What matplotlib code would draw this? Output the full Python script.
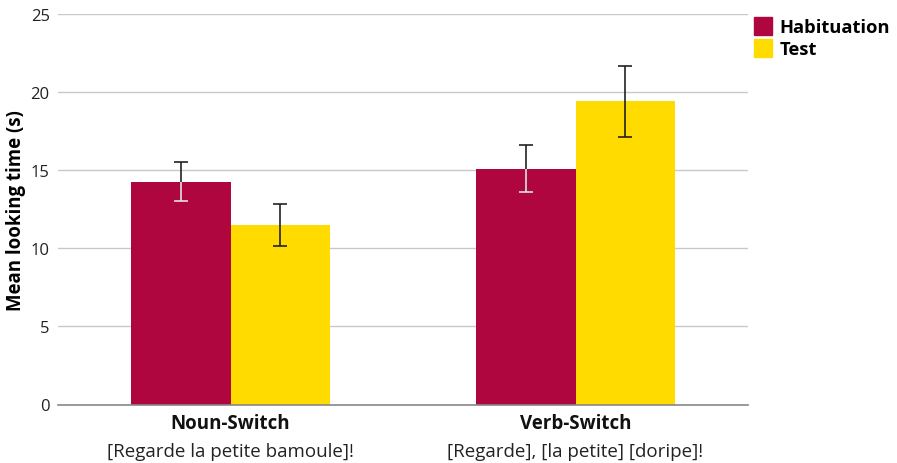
import matplotlib
matplotlib.use("Agg")
import matplotlib.pyplot as plt
import numpy as np
from matplotlib.lines import Line2D

plt.rcParams['font.family'] = ['Open Sans', 'DejaVu Sans']

categories = ["Noun-Switch", "Verb-Switch"]
subtitles = ["[Regarde la petite bamoule]!", "[Regarde], [la petite] [doripe]!"]
series_names = ["Habituation", "Test"]
habituation = [14.25, 15.1]
habituation_err = [1.25, 1.5]
test = [11.5, 19.4]
test_err = [1.35, 2.3]
yticks = [0, 5, 10, 15, 20, 25]

red = "#B0063F"
yellow = "#FFDB00"

fig = plt.figure(figsize=(8.97, 4.64), dpi=100)
ax = fig.add_axes([58/897, 1 - 405.5/464, 690/897, 390.5/464])

x = np.arange(len(categories))
w = 0.287
ax.bar(x - w/2, habituation, width=w, color=red, zorder=2)
ax.bar(x + w/2, test, width=w, color=yellow, zorder=2)

ax.errorbar(x - w/2, habituation, yerr=habituation_err, fmt='none', ecolor='#222222',
            elinewidth=1.2, capsize=5, capthick=1.2, zorder=3)
# lower part inside the red bar appears light
ax.errorbar(x - w/2, np.array(habituation) - np.array(habituation_err)/2,
            yerr=np.array(habituation_err)/2, fmt='none', ecolor='#f0e0e6',
            elinewidth=1.2, capsize=0, zorder=4)
ax.plot(x - w/2, np.array(habituation) - np.array(habituation_err), linestyle='none',
        marker='_', markersize=10, markeredgewidth=1.2, color='#f0e0e6', zorder=4)
ax.errorbar(x + w/2, test, yerr=test_err, fmt='none', ecolor='#222222',
            elinewidth=1.2, capsize=5, capthick=1.2, zorder=3)

ax.set_xlim(-0.5, 1.5)
ax.set_ylim(0, 25)
ax.set_yticks(yticks)
ax.set_yticklabels([str(t) for t in yticks], fontsize=12, color='#222222')
ax.yaxis.grid(True, color='#c8c8c8', linewidth=1, zorder=0)
ax.set_axisbelow(True)
for s in ['left', 'right', 'top']:
    ax.spines[s].set_visible(False)
ax.spines['bottom'].set_color('#888888')
ax.spines['bottom'].set_linewidth(1.2)
ax.tick_params(axis='y', length=0, pad=6)
ax.tick_params(axis='x', length=0)
ax.set_xticks(x)
ax.set_xticklabels([])

for xi, cat, sub in zip(x, categories, subtitles):
    ax.text(xi, -0.022, cat, transform=ax.get_xaxis_transform(), ha='center', va='top',
            fontsize=13.5, fontweight='bold', color='#111111')
    ax.text(xi, -0.095, sub, transform=ax.get_xaxis_transform(), ha='center', va='top',
            fontsize=13.5, color='#222222')

ax.set_ylabel("Mean looking time (s)", fontsize=13.4, fontweight='bold')
ax.yaxis.set_label_coords(-(58 - 26) / 690, 0.5)

handles = [Line2D([0], [0], marker='s', linestyle='none', markersize=13,
                  markerfacecolor=c, markeredgecolor=c) for c in (red, yellow)]
leg = fig.legend(handles, series_names, loc='upper left', bbox_to_anchor=(745/897, 1 - 12/464),
                 frameon=False, prop={'weight': 'bold', 'size': 13.2}, handletextpad=0.3,
                 labelspacing=0.2, handlelength=1.2, borderaxespad=0)

fig.savefig("out.png", dpi=100)
